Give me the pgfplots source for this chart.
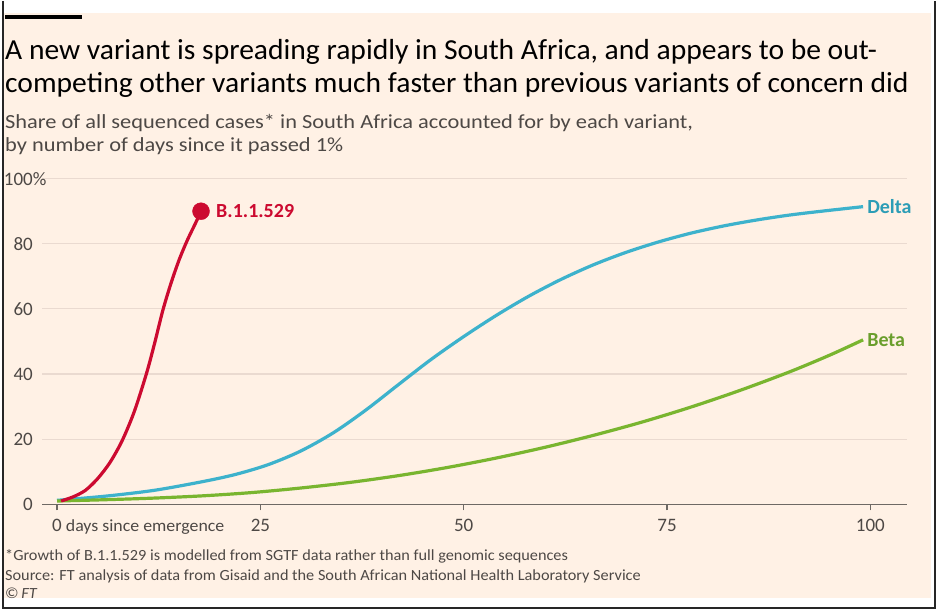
\documentclass[border=0pt]{standalone}
\usepackage{pgfplots}
\pgfplotsset{compat=1.18}
\usepackage{fontspec}
\setmainfont{Carlito}
\newfontfamily\titlefont{Carlito}[FakeStretch=1.02]
\newfontfamily\subfont{Carlito}[FakeStretch=1.12]
\newfontfamily\notefont{Carlito}[FakeStretch=1.05]

\definecolor{paper}{HTML}{FFF1E5}
\definecolor{omired}{HTML}{CC0A30}
\definecolor{deltablue}{HTML}{3DB2CC}
\definecolor{deltatext}{HTML}{2C9DB6}
\definecolor{betagreen}{HTML}{79B52F}
\definecolor{betatext}{HTML}{6A9E2C}
\definecolor{gridc}{HTML}{EADAD0}
\definecolor{axisc}{HTML}{6E6964}
\definecolor{textgrey}{HTML}{4D4845}

\begin{document}
\begin{tikzpicture}
% page, paper and frame
\fill[white] (0,0) rectangle (944bp,-610bp);
\fill[paper] (4bp,-12bp) rectangle (931bp,-597bp);
\draw[black!85, line width=1.5bp] (3bp,0) -- (3bp,-607bp) -- (935bp,-607bp) -- (935bp,0);
\fill[black] (5bp,-14bp) rectangle (82bp,-18.5bp);

% titles
\node[anchor=base west, inner sep=0, font=\titlefont\fontsize{29bp}{31bp}\selectfont] at (5bp,-59bp)
  {A new variant is spreading rapidly in South Africa, and appears to be out-};
\node[anchor=base west, inner sep=0, font=\titlefont\fontsize{29bp}{31bp}\selectfont] at (5bp,-92bp)
  {competing other variants much faster than previous variants of concern did};
\node[anchor=base west, inner sep=0, text=textgrey, font=\subfont\fontsize{20bp}{22bp}\selectfont] at (5bp,-128bp)
  {Share of all sequenced cases* in South Africa accounted for by each variant,};
\node[anchor=base west, inner sep=0, text=textgrey, font=\subfont\fontsize{20bp}{22bp}\selectfont] at (5bp,-151bp)
  {by number of days since it passed 1\%};

% footnotes
\node[anchor=base west, inner sep=0, text=textgrey, font=\notefont\fontsize{15.5bp}{17bp}\selectfont] at (5bp,-560bp)
  {*Growth of B.1.1.529 is modelled from SGTF data rather than full genomic sequences};
\node[anchor=base west, inner sep=0, text=textgrey, font=\notefont\fontsize{15.5bp}{17bp}\selectfont] at (5bp,-580bp)
  {Source: FT analysis of data from Gisaid and the South African National Health Laboratory Service};
\node[anchor=base west, inner sep=0, text=textgrey, font=\notefont\fontsize{15.5bp}{17bp}\selectfont] at (5bp,-598bp)
  {\textcopyright\,\textit{FT}};

\begin{axis}[
  at={(42bp,-503.5bp)}, anchor=south west,
  scale only axis, width=865bp, height=325.6bp,
  xmin=-1.85, xmax=104.5, ymin=0, ymax=100,
  clip=false,
  axis x line=bottom, axis y line=left,
  x axis line style={draw=axisc, line width=1.4bp, -},
  y axis line style={draw=none},
  xtick={0,25,50,75,100},
  xticklabels={0\rlap{\notefont\fontsize{17bp}{19bp}\selectfont\ days since emergence},25,50,75,100},
  ytick={0,20,40,60,80,100},
  yticklabels={0,20,40,60,80,100\rlap{\%}},
  tick align=outside,
  major tick length=6bp,
  xtick style={draw=axisc, line width=1.2bp},
  ytick style={draw=none},
  ymajorgrids,
  major grid style={draw=gridc, line width=1.2bp},
  tick label style={text=textgrey, font=\fontsize{19bp}{21bp}\selectfont},
  xticklabel style={inner sep=0pt, yshift=-9bp, anchor=north},
  yticklabel style={inner sep=0pt, anchor=east, xshift=-3bp},
  /pgf/number format/assume math mode=true,
]
% Delta
\addplot[deltablue, line width=3.2bp, smooth] coordinates {
 (0,1.2) (6,2.5) (12,4.3) (18,7.0) (22,9.2) (26,12.2) (30,16.4) (34,22.0) (38,29.0)
 (42,36.8) (46,44.5) (50,51.5) (54,58.0) (58,63.9) (62,69.1) (66,73.6) (70,77.4)
 (74,80.6) (78,83.3) (82,85.5) (86,87.3) (90,88.8) (94,90.0) (99.1,91.4)
};
% Beta
\addplot[betagreen, line width=3.2bp, smooth] coordinates {
 (0,1.0) (6,1.4) (12,1.9) (18,2.6) (24,3.6) (30,5.0) (36,6.7) (42,8.8) (48,11.3)
 (54,14.2) (60,17.5) (66,21.2) (72,25.3) (78,29.9) (84,35.0) (90,40.6) (95,45.8) (99.1,50.5)
};
% B.1.1.529
\addplot[omired, line width=3.2bp, smooth] coordinates {
 (0.5,1) (2,2.3) (3.5,4.3) (5,7.9) (6.5,12.8) (8,19.5) (9.5,28.5) (11,40.2) (12,49.5)
 (13,59.5) (14,67.8) (15,75.0) (16,81.0) (17,86.2) (17.7,90)
};
\addplot[only marks, mark=*, mark size=8.5bp, color=omired] coordinates {(17.7,90)};

\node[anchor=west, inner sep=0, text=omired, font=\fontsize{20bp}{22bp}\selectfont\bfseries, xshift=15bp] at (axis cs:17.7,90) {B.1.1.529};
\node[anchor=west, inner sep=0, text=deltatext, font=\fontsize{20bp}{22bp}\selectfont\bfseries, xshift=4bp] at (axis cs:99.1,91.4) {Delta};
\node[anchor=west, inner sep=0, text=betatext, font=\fontsize{20bp}{22bp}\selectfont\bfseries, xshift=4bp] at (axis cs:99.1,50.5) {Beta};
\end{axis}
\end{tikzpicture}
\end{document}
